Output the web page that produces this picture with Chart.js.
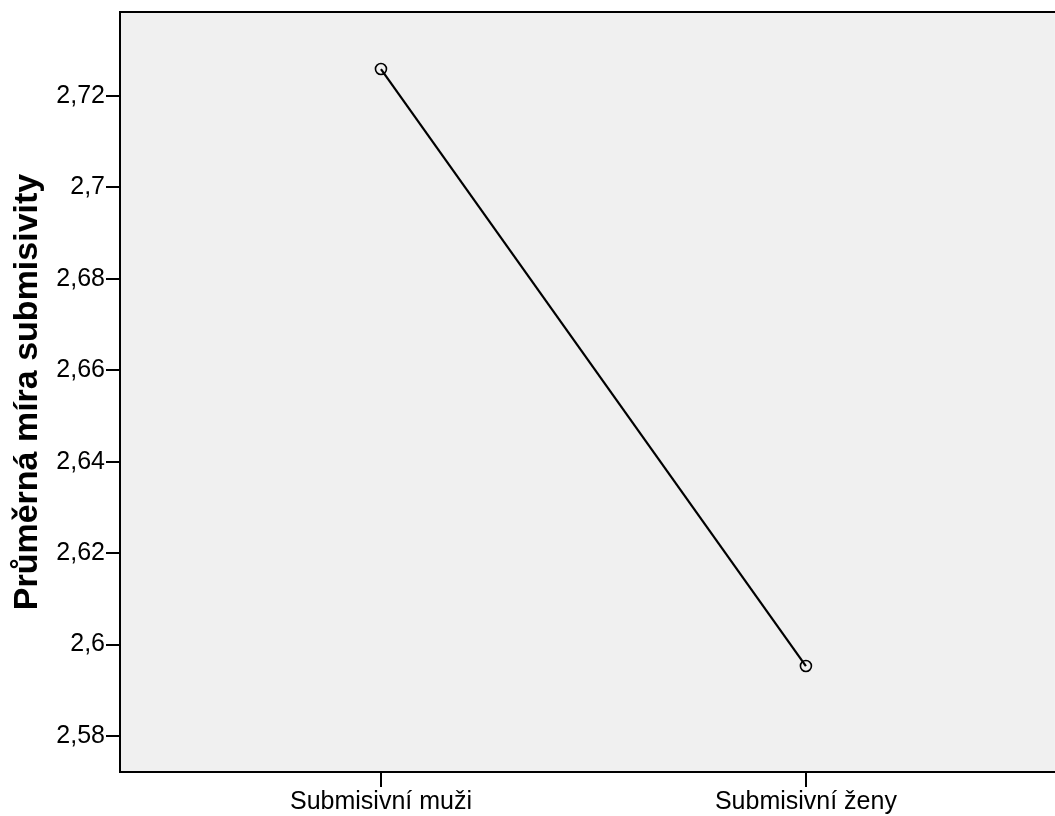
<!DOCTYPE html>
<html>
<head>
<meta charset="utf-8">
<script src="https://cdn.jsdelivr.net/npm/chart.js@4/dist/chart.umd.min.js"></script>
<style>
  body { margin: 0; background: #fff; overflow: hidden; }
  #wrap { width: 1055px; height: 816px; overflow: hidden; }
</style>
</head>
<body>
<div id="wrap"><canvas id="chart" width="1062" height="816"></canvas></div>
<script>
const categories = ["Submisivní muži", "Submisivní ženy"];
const means = [2.7259, 2.5953];
const yTicks = [2.58, 2.6, 2.62, 2.64, 2.66, 2.68, 2.7, 2.72];
const yTitle = "Průměrná míra submisivity";

function formatComma(v) {
  return String(Math.round(v * 100) / 100).replace(".", ",");
}

// grey plot background + top frame line
const frame = {
  id: "frame",
  beforeDraw(chart) {
    const a = chart.chartArea, ctx = chart.ctx;
    ctx.save();
    ctx.fillStyle = "#f0f0f0";
    ctx.fillRect(a.left, a.top, a.right - a.left, a.bottom - a.top);
    ctx.restore();
  },
  afterDraw(chart) {
    const a = chart.chartArea, ctx = chart.ctx;
    ctx.save();
    ctx.strokeStyle = "#000";
    ctx.lineWidth = 2;
    ctx.beginPath();
    ctx.moveTo(a.left - 1, a.top);
    ctx.lineTo(a.right + 8, a.top);
    ctx.stroke();
    ctx.restore();
  }
};

function noPad(s) {
  s.paddingTop = 0;
  s.paddingBottom = 0;
  s.paddingLeft = 0;
  s.paddingRight = 0;
}

const ctx = document.getElementById("chart").getContext("2d");
new Chart(ctx, {
  type: "line",
  data: {
    datasets: [{
      data: means.map((v, i) => ({ x: i, y: v })),
      borderColor: "#000",
      borderWidth: 2.2,
      pointRadius: 5.5,
      pointBorderWidth: 1.6,
      pointBorderColor: "#000",
      pointBackgroundColor: "rgba(0,0,0,0)",
      fill: false,
      tension: 0
    }]
  },
  options: {
    responsive: false,
    animation: false,
    layout: { padding: { top: 12, right: 0, left: 0, bottom: 0 } },
    plugins: { legend: { display: false }, tooltip: { enabled: false } },
    scales: {
      x: {
        type: "linear",
        min: -0.6141,
        max: 1.5859,
        afterBuildTicks: s => { s.ticks = categories.map((c, i) => ({ value: i })); },
        afterFit: s => { s.height = 44; noPad(s); },
        ticks: {
          callback: v => categories[v],
          color: "#000",
          font: { family: "Liberation Sans, Arial, sans-serif", size: 25 },
          padding: 0,
          maxRotation: 0
        },
        grid: { drawOnChartArea: false, drawTicks: true, tickLength: 15, color: "#000", lineWidth: 2 },
        border: { display: true, color: "#000", width: 2 }
      },
      y: {
        min: 2.57212,
        max: 2.73838,
        afterBuildTicks: s => { s.ticks = yTicks.map(v => ({ value: v })); },
        afterFit: s => { s.width = 120; noPad(s); },
        ticks: {
          callback: v => formatComma(v),
          color: "#000",
          font: { family: "Liberation Sans, Arial, sans-serif", size: 25 },
          padding: 1
        },
        grid: { drawOnChartArea: false, drawTicks: true, tickLength: 14, color: "#000", lineWidth: 2 },
        border: { display: true, color: "#000", width: 2 },
        title: {
          display: true,
          text: yTitle,
          color: "#000",
          font: { family: "Liberation Sans, Arial, sans-serif", size: 34, weight: "bold" },
          padding: { top: 7, bottom: 0 }
        }
      }
    }
  },
  plugins: [frame]
});
</script>
</body>
</html>
